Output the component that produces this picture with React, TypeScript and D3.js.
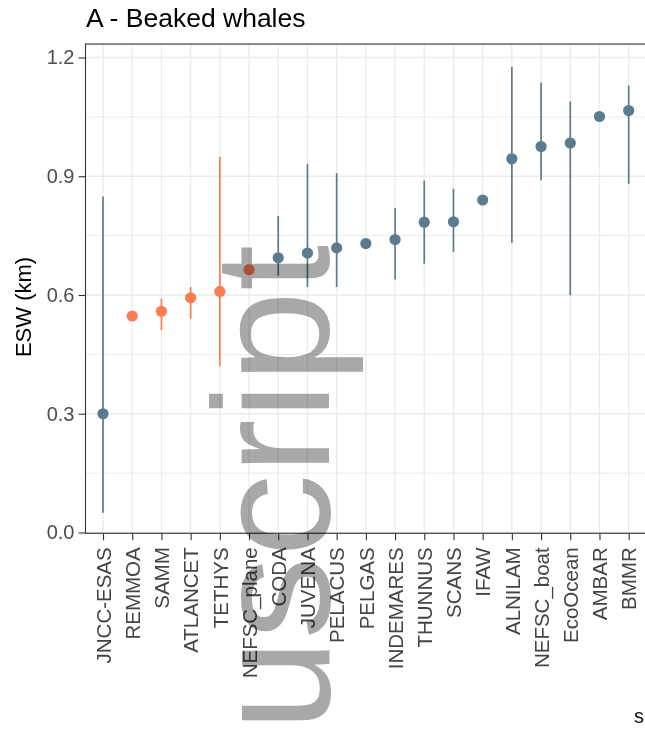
import React, { useRef, useEffect } from "react";
import * as d3 from "d3";

// surveys, ordered as on the x axis
const surveys = [
  "JNCC-ESAS", "REMMOA", "SAMM", "ATLANCET", "TETHYS", "NEFSC_plane", "CODA",
  "JUVENA", "PELACUS", "PELGAS", "INDEMARES", "THUNNUS", "SCANS", "IFAW",
  "ALNILAM", "NEFSC_boat", "EcoOcean", "AMBAR", "BMMR",
];
// effective strip width (km) and interval
const esw = [0.3, 0.547, 0.559, 0.593, 0.609, 0.664, 0.694, 0.706, 0.719, 0.73, 0.74, 0.784, 0.785, 0.84, 0.944, 0.975, 0.984, 1.051, 1.066];
const lower = [0.05, 0.54, 0.511, 0.54, 0.42, 0.655, 0.649, 0.62, 0.62, 0.725, 0.639, 0.679, 0.709, 0.835, 0.732, 0.89, 0.599, 1.045, 0.881];
const upper = [0.849, 0.555, 0.591, 0.62, 0.949, 0.672, 0.8, 0.931, 0.908, 0.735, 0.82, 0.889, 0.868, 0.845, 1.176, 1.137, 1.089, 1.057, 1.129];
// aerial surveys drawn in orange
const aerial = ["REMMOA", "SAMM", "ATLANCET", "TETHYS", "NEFSC_plane"];
const yTicks = [0, 0.3, 0.6, 0.9, 1.2];
const yMinor = [0.15, 0.45, 0.75, 1.05];

export default function App() {
  const ref = useRef<SVGSVGElement>(null);

  useEffect(() => {
    const W = 645, H = 732;
    const font = "'Liberation Sans', Arial, sans-serif";
    const svg = d3.select(ref.current).html("").attr("width", W).attr("height", H);

    const x = d3.scalePoint<string>().domain(surveys).range([85.5, 646.2]).padding(0.6);
    const y = d3.scaleLinear().domain([0, 1.2]).range([532.5, 57.5]);
    const top = y(1.234), bottom = y(-0.002), left = 85.5, right = 646.2;

    const data = surveys.map((s, i) => ({ s, v: esw[i], lo: lower[i], hi: upper[i] }));
    const col = (s: string) => (aerial.includes(s) ? "#fb7d4f" : "#5b7b8e");

    svg.append("rect").attr("x", left).attr("y", top).attr("width", right - left)
      .attr("height", bottom - top).attr("fill", "white");

    // grid
    const g = svg.append("g").attr("stroke", "#ebebeb");
    g.selectAll(".mi").data(yMinor).enter().append("line")
      .attr("x1", left).attr("x2", right).attr("y1", (d) => y(d)).attr("y2", (d) => y(d))
      .attr("stroke-width", 1);
    g.selectAll(".ma").data(yTicks).enter().append("line")
      .attr("x1", left).attr("x2", right).attr("y1", (d) => y(d)).attr("y2", (d) => y(d))
      .attr("stroke-width", 1.3);
    g.selectAll(".vx").data(surveys).enter().append("line")
      .attr("x1", (d) => x(d)!).attr("x2", (d) => x(d)!).attr("y1", top).attr("y2", bottom)
      .attr("stroke-width", 1.3);

    // error bars + points
    svg.append("g").selectAll("line").data(data).enter().append("line")
      .attr("x1", (d) => x(d.s)!).attr("x2", (d) => x(d.s)!)
      .attr("y1", (d) => y(d.lo)).attr("y2", (d) => y(d.hi))
      .attr("stroke", (d) => col(d.s)).attr("stroke-width", 1.7);
    svg.append("g").selectAll("circle").data(data).enter().append("circle")
      .attr("cx", (d) => x(d.s)!).attr("cy", (d) => y(d.v)).attr("r", 5.6)
      .attr("fill", (d) => col(d.s));

    // panel border
    svg.append("rect").attr("x", left).attr("y", top).attr("width", right - left)
      .attr("height", bottom - top).attr("fill", "none").attr("stroke", "#333").attr("stroke-width", 1.1);

    // y axis
    const ya = svg.append("g").attr("transform", `translate(${left},0)`)
      .call(d3.axisLeft(y).tickValues(yTicks).tickFormat(d3.format(".1f")).tickSize(7).tickPadding(4));
    ya.select(".domain").remove();
    ya.selectAll("line").attr("stroke", "#333").attr("stroke-width", 1.1);
    ya.selectAll("text").attr("fill", "#4d4d4d").style("font-family", font).style("font-size", "20px");

    // x axis
    const xa = svg.append("g").attr("transform", `translate(0,${bottom})`)
      .call(d3.axisBottom(x).tickSize(7).tickPadding(4));
    xa.select(".domain").remove();
    xa.selectAll("line").attr("stroke", "#333").attr("stroke-width", 1.1);
    xa.selectAll("text").attr("fill", "#444").style("font-family", font).style("font-size", "20.5px")
      .attr("text-anchor", "end").attr("dy", "0.35em")
      .attr("transform", "translate(0,14) rotate(-90)").attr("x", 0).attr("y", 0);

    // titles
    svg.append("text").attr("x", 86).attr("y", 27).text("A - Beaked whales")
      .style("font-family", font).style("font-size", "26.5px").attr("fill", "#000");
    svg.append("text").attr("transform", "translate(31,307) rotate(-90)").attr("text-anchor", "middle")
      .text("ESW (km)").style("font-family", font).style("font-size", "22px").attr("fill", "#000");
    svg.append("text").attr("x", 634).attr("y", 723).text("s")
      .style("font-family", font).style("font-size", "20px").attr("fill", "#111");

    // watermark
    svg.append("text").attr("transform", "translate(329,731) rotate(-90)").text("uscript")
      .style("font-family", font).style("font-size", "165px").attr("fill", "#a8a8a8")
      .style("mix-blend-mode", "multiply");
  }, []);

  return <svg ref={ref} style={{ position: "absolute", left: 0, top: 0 }} />;
}
